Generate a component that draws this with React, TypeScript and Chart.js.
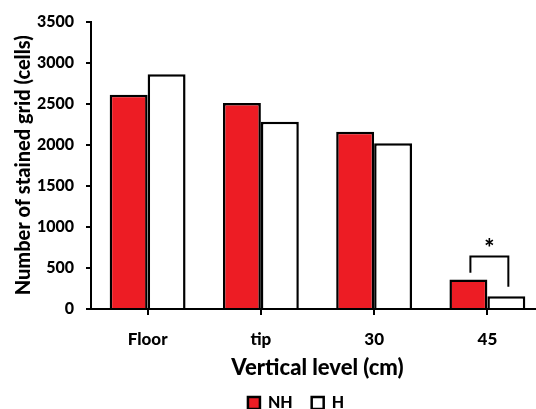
import React, { useEffect, useRef } from "react";
import { Chart, registerables } from "chart.js";

Chart.register(...registerables);

const categories = ["Floor", "tip", "30", "45"];
const seriesLabels = ["NH", "H"];
const nhValues = [2610, 2510, 2160, 360];
const hValues = [2860, 2280, 2020, 155];
const yTicks = [0, 500, 1000, 1500, 2000, 2500, 3000, 3500];
const yTitle = "Number of stained grid (cells)";
const xTitle = "Vertical level (cm)";
// significance bracket at category index 3: [left end, top, right end] values
const sigIndex = 3;
const sigLevels = [440, 640, 270];
const sigLabel = "*";
const sigLabelValue = 800;

const FONT = "Lato, 'Open Sans', sans-serif";
const W = "900";
const RED = "#ED1C24";

const bracketPlugin = {
  id: "bracket",
  afterDatasetsDraw(chart: any) {
    const ctx = chart.ctx;
    const y = chart.scales.y;
    const m0 = chart.getDatasetMeta(0).data[sigIndex];
    const m1 = chart.getDatasetMeta(1).data[sigIndex];
    if (!m0 || !m1) return;
    const xl = m0.x + 2;
    const xr = m1.x + 2;
    ctx.save();
    ctx.strokeStyle = "#000";
    ctx.lineWidth = 2;
    ctx.beginPath();
    ctx.moveTo(xl, y.getPixelForValue(sigLevels[0]));
    ctx.lineTo(xl, y.getPixelForValue(sigLevels[1]));
    ctx.lineTo(xr, y.getPixelForValue(sigLevels[1]));
    ctx.lineTo(xr, y.getPixelForValue(sigLevels[2]));
    ctx.stroke();
    ctx.fillStyle = "#000";
    ctx.font = `${W} 24px ${FONT}`;
    ctx.textAlign = "center";
    ctx.textBaseline = "middle";
    ctx.fillText(sigLabel, (xl + xr) / 2, y.getPixelForValue(sigLabelValue) + 6);
    ctx.restore();
  },
};

const legendShiftPlugin = {
  id: "legendShift",
  afterLayout(chart: any) {
    const lg = chart.legend;
    if (lg) {
      lg.left += 24;
      lg.right += 24;
      lg.top = 376;
      lg.bottom = 409;
      lg.height = 33;
    }
  },
};

export default function App() {
  const ref = useRef<HTMLCanvasElement | null>(null);
  useEffect(() => {
    if (!ref.current) return;
    const chart = new Chart(ref.current, {
      type: "bar",
      data: {
        labels: categories,
        datasets: [
          {
            label: seriesLabels[0],
            data: nhValues,
            backgroundColor: RED,
            borderColor: "#000",
            borderWidth: 2.5,
          },
          {
            label: seriesLabels[1],
            data: hValues,
            backgroundColor: "#fff",
            borderColor: "#000",
            borderWidth: 2.5,
          },
        ],
      },
      options: {
        responsive: false,
        animation: false,
        devicePixelRatio: 1,
        layout: { padding: { top: 20, right: 0, left: 0, bottom: 0 } },
        datasets: { bar: { categoryPercentage: 0.67, barPercentage: 1 } },
        plugins: {
          tooltip: { enabled: false },
          legend: {
            position: "bottom",
            maxHeight: 20,
            labels: {
              color: "#000",
              boxWidth: 12,
              boxHeight: 12,
              padding: 19,
              font: { family: FONT, size: 16, weight: W },
            },
          },
        },
        scales: {
          x: {
            afterFit: (scale: any) => {
              scale.height = 80;
            },
            grid: {
              offset: false,
              drawOnChartArea: false,
              tickLength: 6,
              color: "#000",
              lineWidth: 2,
            },
            border: { display: true, color: "#000", width: 2 },
            ticks: {
              color: "#000",
              padding: 14,
              font: { family: FONT, size: 17, weight: W },
            },
            title: {
              display: true,
              text: xTitle,
              color: "#000",
              padding: { top: 0, bottom: 8 },
              font: { family: FONT, size: 22, weight: W },
            },
          },
          y: {
            min: 0,
            max: 3500,
            afterBuildTicks: (scale: any) => {
              scale.ticks = yTicks.map((v) => ({ value: v }));
            },
            afterFit: (scale: any) => {
              scale.width = 91;
            },
            grid: {
              drawOnChartArea: false,
              tickLength: 5,
              color: "#000",
              lineWidth: 2,
            },
            border: { display: true, color: "#000", width: 2 },
            ticks: {
              color: "#000",
              padding: 12,
              font: { family: FONT, size: 16, weight: W },
              callback: (v: any) => String(v),
            },
            title: {
              display: true,
              text: yTitle,
              color: "#000",
              padding: { top: 12, bottom: 0 },
              font: { family: FONT, size: 20, weight: W },
            },
          },
        },
      },
      plugins: [bracketPlugin, legendShiftPlugin],
    });
    return () => chart.destroy();
  }, []);
  return (
    <div
      style={{
        position: "fixed",
        left: 0,
        top: 0,
        width: 536,
        height: 409,
        overflow: "hidden",
        background: "#fff",
      }}
    >
      <canvas ref={ref} width={544} height={409} style={{ width: 544, height: 409 }} />
    </div>
  );
}
